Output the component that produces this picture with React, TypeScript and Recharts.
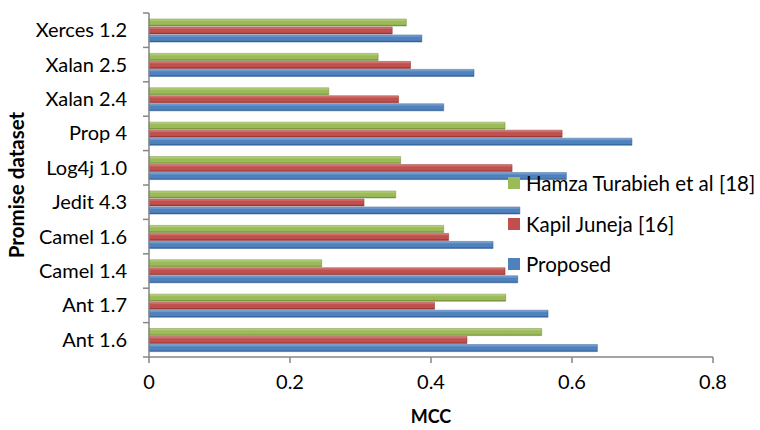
import { BarChart, Bar, XAxis, YAxis, Legend } from 'recharts'

const categories = [
  'Ant 1.6', 'Ant 1.7', 'Camel 1.4', 'Camel 1.6', 'Jedit 4.3',
  'Log4j 1.0', 'Prop 4', 'Xalan 2.4', 'Xalan 2.5', 'Xerces 1.2',
]
const hamza = [0.557, 0.506, 0.245, 0.418, 0.35, 0.357, 0.505, 0.255, 0.325, 0.365]
const kapil = [0.451, 0.405, 0.505, 0.425, 0.305, 0.515, 0.586, 0.354, 0.371, 0.345]
const proposed = [0.636, 0.566, 0.523, 0.488, 0.526, 0.592, 0.685, 0.418, 0.461, 0.387]
const xTicks = [0, 0.2, 0.4, 0.6, 0.8]

const data = categories.map((name, i) => ({
  name,
  hamza: hamza[i],
  kapil: kapil[i],
  proposed: proposed[i],
}))

const FONT = 'Lato, "Open Sans", sans-serif'
const AXIS = '#868686'
const PLOT_TOP = 13
const PLOT_H = 344
const BAND = PLOT_H / categories.length

const SERIES = [
  { key: 'hamza', name: 'Hamza Turabieh et al [18]', base: '#9BBB59', light: '#C3DB8E', dark: '#6E8A35' },
  { key: 'kapil', name: 'Kapil Juneja [16]', base: '#C0504D', light: '#E08A87', dark: '#8C2F2C' },
  { key: 'proposed', name: 'Proposed', base: '#4F81BD', light: '#8CB1DE', dark: '#2D5B92' },
]

// category tick with marks on the band boundaries, Excel style
const CategoryTick = ({ x, y, payload, index }: any) => (
  <g>
    <line x1={149} x2={143} y1={y + BAND / 2} y2={y + BAND / 2} stroke={AXIS} strokeWidth={1.5} />
    {index === categories.length - 1 && (
      <line x1={149} x2={143} y1={y - BAND / 2} y2={y - BAND / 2} stroke={AXIS} strokeWidth={1.5} />
    )}
    <text x={x} y={y} dy={7} textAnchor="end" fontSize={20} fill="#000" fontFamily={FONT}>
      {payload.value}
    </text>
  </g>
)

const LegendBox = ({ payload }: any) => (
  <div style={{ fontFamily: FONT, fontSize: 20.5, color: '#000' }}>
    {(payload || []).map((p: any) => {
      const s = SERIES.find(d => d.key === p.dataKey)
      return (
        <div key={p.value} style={{ display: 'flex', alignItems: 'center', height: 40.5 }}>
          <span style={{ width: 12, height: 12, background: s?.base, marginRight: 6, display: 'inline-block' }} />
          <span>{p.value}</span>
        </div>
      )
    })}
  </div>
)

export default function App() {
  return (
    <div style={{ position: 'absolute', left: 0, top: 0, width: 760, height: 430, background: '#fff' }}>
      <BarChart
        width={760}
        height={430}
        layout="vertical"
        data={data}
        margin={{ top: PLOT_TOP, right: 47, left: 29, bottom: 13 }}
        barCategoryGap="30%"
        barGap={1}
        barSize={7}
      >
        <defs>
          {SERIES.map(s => (
            <linearGradient key={s.key} id={`g-${s.key}`} x1="0" y1="0" x2="0" y2="1">
              <stop offset="0%" stopColor={s.light} />
              <stop offset="35%" stopColor={s.base} />
              <stop offset="75%" stopColor={s.base} />
              <stop offset="100%" stopColor={s.dark} />
            </linearGradient>
          ))}
        </defs>
        <XAxis
          type="number"
          domain={[0, 0.8]}
          ticks={xTicks}
          height={60}
          tick={{ fontSize: 20, fill: '#000', fontFamily: FONT }}
          tickFormatter={(v: number) => String(v)}
          axisLine={{ stroke: AXIS, strokeWidth: 1.5 }}
          tickLine={{ stroke: AXIS, strokeWidth: 1.5 }}
          tickSize={6}
          tickMargin={12}
          label={{
            value: 'MCC',
            position: 'insideBottom',
            offset: -6,
            fontSize: 18,
            fontWeight: 700,
            fill: '#000',
            fontFamily: FONT,
          }}
        />
        <YAxis
          type="category"
          dataKey="name"
          reversed
          interval={0}
          width={120}
          tick={<CategoryTick />}
          tickLine={false}
          tickSize={6}
          tickMargin={16}
          axisLine={{ stroke: AXIS, strokeWidth: 1.5 }}
          label={{
            value: 'Promise dataset',
            angle: -90,
            position: 'insideLeft',
            offset: -12,
            style: { textAnchor: 'middle' },
            fontSize: 20.5,
            fontWeight: 700,
            fill: '#000',
            fontFamily: FONT,
          }}
        />
        <Legend
          layout="vertical"
          align="center"
          verticalAlign="middle"
          content={<LegendBox />}
          wrapperStyle={{ position: 'absolute', left: 508, top: 163, width: 260 }}
        />
        {SERIES.map(s => (
          <Bar
            key={s.key}
            dataKey={s.key}
            name={s.name}
            fill={`url(#g-${s.key})`}
            stroke={s.dark}
            strokeWidth={0.5}
            isAnimationActive={false}
          />
        ))}
      </BarChart>
    </div>
  )
}
